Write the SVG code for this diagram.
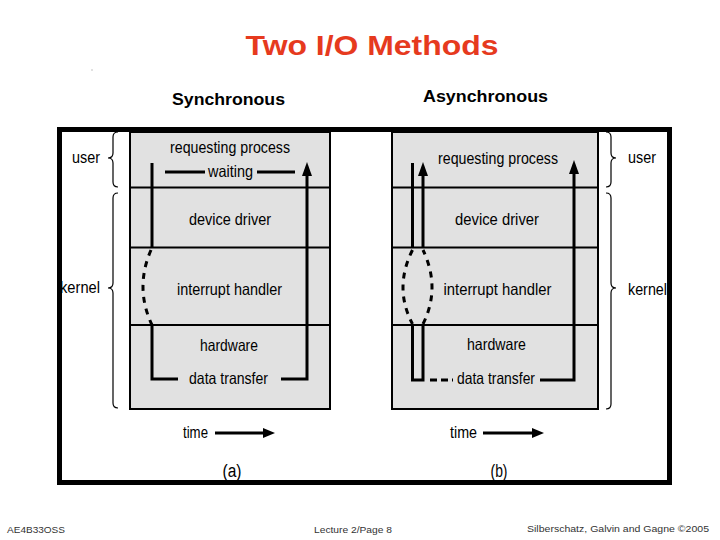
<svg xmlns="http://www.w3.org/2000/svg" width="720" height="540" viewBox="0 0 720 540">
<defs>
<style>
.t{font-family:"Liberation Sans",Arial,sans-serif;fill:#000}
.cell{font-size:16.5px;text-anchor:middle}
.panel{fill:#e1e1e1;stroke:#000;stroke-width:2}
.row{stroke:#000;stroke-width:2}
.ln{fill:none;stroke:#000;stroke-width:3}
.dash{fill:none;stroke:#000;stroke-width:3;stroke-dasharray:6 6}
.brace{fill:none;stroke:#000;stroke-width:1.2}
.foot{font-family:"Liberation Sans",Arial,sans-serif;font-size:9.5px;fill:#333}
</style>
<marker id="ah" markerUnits="userSpaceOnUse" markerWidth="16" markerHeight="12" refX="0" refY="5" orient="auto">
<path d="M0,0 L14,5 L0,10 z" fill="#000"/>
</marker>
<marker id="th" markerUnits="userSpaceOnUse" markerWidth="14" markerHeight="12" refX="0" refY="5" orient="auto">
<path d="M0,0 L12,5 L0,10 z" fill="#000"/>
</marker>
</defs>
<rect width="720" height="540" fill="#fff"/>
<rect x="91.5" y="69.5" width="1" height="1" fill="#888"/>
<g id="title">
<text class="t" x="372" y="55" font-size="28" font-weight="bold" text-anchor="middle" fill="#e63a1e" style="fill:#e63a1e" textLength="253" lengthAdjust="spacingAndGlyphs">Two I/O Methods</text>
<text class="t" x="228.5" y="105" font-size="16" font-weight="bold" text-anchor="middle" textLength="113" lengthAdjust="spacingAndGlyphs">Synchronous</text>
<text class="t" x="485.5" y="102" font-size="16" font-weight="bold" text-anchor="middle" textLength="125" lengthAdjust="spacingAndGlyphs">Asynchronous</text>
</g>
<rect id="frame" x="59.5" y="129.5" width="610" height="353" fill="#fff" stroke="#000" stroke-width="5"/>
<g id="panel-a">
<rect class="panel" x="130" y="132" width="200" height="277"/>
<line class="row" x1="130" y1="187.5" x2="330" y2="187.5"/>
<line class="row" x1="130" y1="247.5" x2="330" y2="247.5"/>
<line class="row" x1="130" y1="325" x2="330" y2="325"/>
<text class="t cell" x="230" y="153" textLength="120" lengthAdjust="spacingAndGlyphs">requesting process</text>
<text class="t cell" x="230.5" y="177" textLength="45" lengthAdjust="spacingAndGlyphs">waiting</text>
<text class="t cell" x="230" y="225" textLength="82" lengthAdjust="spacingAndGlyphs">device driver</text>
<text class="t cell" x="229.5" y="295" textLength="105" lengthAdjust="spacingAndGlyphs">interrupt handler</text>
<text class="t cell" x="229" y="351" textLength="58" lengthAdjust="spacingAndGlyphs">hardware</text>
<text class="t cell" x="228.5" y="384" textLength="79" lengthAdjust="spacingAndGlyphs">data transfer</text>
<text class="t cell" x="195.5" y="438" textLength="25" lengthAdjust="spacingAndGlyphs">time</text>
<text class="t" x="232" y="477" font-size="18" text-anchor="middle" textLength="19" lengthAdjust="spacingAndGlyphs">(a)</text>
<text class="t" x="86" y="163" font-size="16.5" text-anchor="middle" textLength="28" lengthAdjust="spacingAndGlyphs">user</text>
<text class="t" x="80" y="293" font-size="16.5" text-anchor="middle" textLength="40" lengthAdjust="spacingAndGlyphs">kernel</text>
</g>
<g id="panel-b">
<rect class="panel" x="392" y="132" width="206" height="277"/>
<line class="row" x1="392" y1="187.5" x2="598" y2="187.5"/>
<line class="row" x1="392" y1="247.5" x2="598" y2="247.5"/>
<line class="row" x1="392" y1="325" x2="598" y2="325"/>
<text class="t cell" x="498" y="164" textLength="120" lengthAdjust="spacingAndGlyphs">requesting process</text>
<text class="t cell" x="497" y="225" textLength="84" lengthAdjust="spacingAndGlyphs">device driver</text>
<text class="t cell" x="497.5" y="295" textLength="108" lengthAdjust="spacingAndGlyphs">interrupt handler</text>
<text class="t cell" x="496.5" y="350" textLength="59" lengthAdjust="spacingAndGlyphs">hardware</text>
<text class="t cell" x="496" y="384" textLength="78" lengthAdjust="spacingAndGlyphs">data transfer</text>
<text class="t cell" x="463.5" y="438" textLength="27" lengthAdjust="spacingAndGlyphs">time</text>
<text class="t" x="499" y="477" font-size="18" text-anchor="middle" textLength="17" lengthAdjust="spacingAndGlyphs">(b)</text>
<text class="t" x="642" y="163" font-size="16.5" text-anchor="middle" textLength="28" lengthAdjust="spacingAndGlyphs">user</text>
<text class="t" x="647.5" y="295" font-size="16.5" text-anchor="middle" textLength="39" lengthAdjust="spacingAndGlyphs">kernel</text>
</g>
<g id="braces">
<path class="brace" d="M118 132 Q113 132 113 137 L113 153 Q113 158 108 158 Q113 158 113 163 L113 182 Q113 187 118 187"/>
<path class="brace" d="M118 193 Q113 193 113 198 L113 283 Q113 288 108 288 Q113 288 113 293 L113 403 Q113 408 118 408"/>
<path class="brace" d="M606 132 Q611 132 611 137 L611 153 Q611 158 616 158 Q611 158 611 163 L611 182 Q611 187 606 187"/>
<path class="brace" d="M606 193 Q611 193 611 198 L611 283 Q611 288 616 288 Q611 288 611 293 L611 404 Q611 409 606 409"/>
</g>
<g id="connectors">
<path class="ln" d="M152 163 L152 247"/>
<path class="dash" d="M151 250 Q134.5 288 152 325"/>
<path class="ln" d="M152 325 L152 379 L178 379"/>
<path class="ln" d="M281 379 L307 379 L307 176" marker-end="url(#ah)"/>
<path class="ln" d="M165 172 L205 172"/>
<path class="ln" d="M257 172 L295 172"/>
<path class="ln" d="M215 433 L263 433" stroke-width="4" marker-end="url(#th)"/>
<path class="ln" d="M412.5 163 L412.5 247"/>
<path class="dash" d="M412.5 250 Q393.5 288 412.5 324"/>
<path class="ln" d="M412.5 325 L412.5 380 L423 380 L423 325"/>
<path class="dash" d="M423 324 Q441 288 423 250"/>
<path class="ln" d="M423 247 L423 176" marker-end="url(#ah)"/>
<path class="ln" d="M430 380 L453 380" style="stroke-dasharray:7 4"/>
<path class="ln" d="M540 380 L574 380 L574 174" marker-end="url(#ah)"/>
<path class="ln" d="M483 433 L532 433" stroke-width="4" marker-end="url(#th)"/>
</g>
<g id="footer">
<text class="foot" x="7" y="533" textLength="58" lengthAdjust="spacingAndGlyphs">AE4B33OSS</text>
<text class="foot" x="314" y="533" textLength="78" lengthAdjust="spacingAndGlyphs">Lecture 2/Page 8</text>
<text class="foot" x="527" y="532" textLength="182" lengthAdjust="spacingAndGlyphs">Silberschatz, Galvin and Gagne ©2005</text>
</g>
</svg>
